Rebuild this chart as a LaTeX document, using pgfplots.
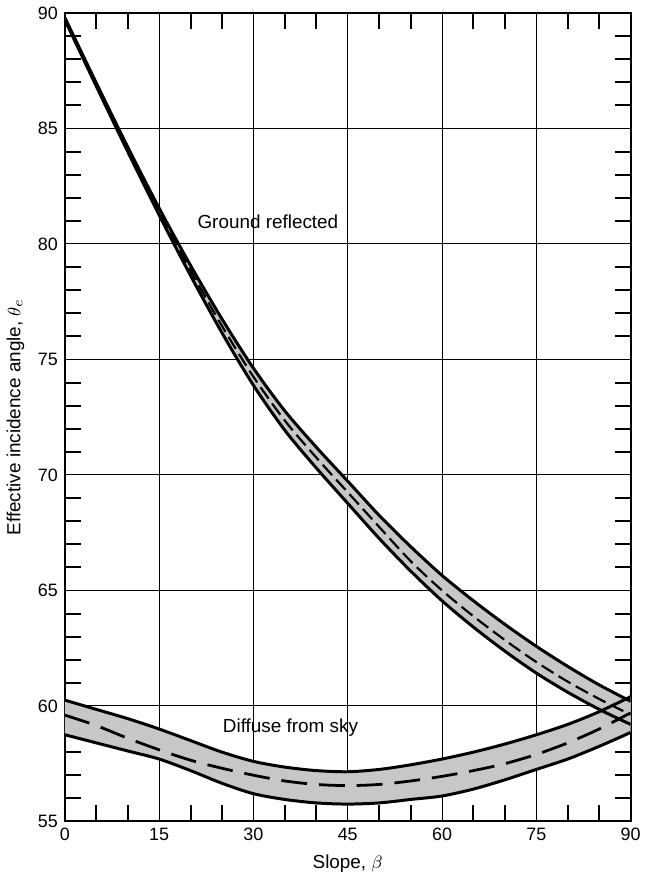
\documentclass[border=0pt]{standalone}
\usepackage{fontspec}
\setmainfont{Liberation Sans}
\usepackage{pgfplots}
\usepackage{pgfplotstable}
\pgfplotsset{compat=1.18}
\usepgfplotslibrary{fillbetween}

% slope, upper edge, dashed middle, lower edge
\pgfplotstableread{
b   up     mid    lo
0   89.8   89.75  89.7
5   86.97  86.9   86.83
10  84.2   84.1   84.0
15  81.55  81.4   81.25
20  79.07  78.85  78.63
25  76.75  76.45  76.15
30  74.62  74.25  73.88
35  72.77  72.35  71.93
40  71.2   70.75  70.3
45  69.73  69.25  68.77
50  68.25  67.75  67.25
55  66.9   66.27  65.84
60  65.65  65.0   64.55
65  64.55  63.88  63.41
70  63.53  62.85  62.37
75  62.58  61.9   61.42
80  61.71  61.05  60.59
85  60.91  60.3   59.85
90  60.2   59.62  59.2
}\ground

\pgfplotstableread{
b   up     mid    lo
0   60.25  59.6   58.75
5   59.85  59.15  58.4
10  59.45  58.6   58.05
15  59.0   58.1   57.7
20  58.5   57.65  57.2
25  58.0   57.3   56.65
30  57.6   57.0   56.2
35  57.35  56.75  55.95
40  57.2   56.6   55.8
45  57.15  56.55  55.75
50  57.25  56.6   55.8
55  57.45  56.75  55.95
60  57.7   56.95  56.1
65  58.0   57.2   56.4
70  58.35  57.5   56.8
75  58.75  57.9   57.25
80  59.2   58.4   57.7
85  59.75  59.0   58.25
90  60.4   59.7   58.85
}\diffuse

\begin{document}
\begin{tikzpicture}
\begin{axis}[
    scale only axis,
    width=284.5pt, height=406.5pt,
    xmin=0, xmax=90, ymin=55, ymax=90,
    xtick={0,15,...,90}, ytick={55,60,...,90},
    minor x tick num=2, minor y tick num=4,
    grid=major,
    major grid style={line width=0.5pt, black},
    major tick length=0pt, minor tick length=8pt,
    every minor tick/.style={line width=1pt, black},
    axis line style={line width=1pt},
    /pgf/number format/assume math mode=true,
    tick label style={font=\fontsize{9}{10}\selectfont},
    label style={font=\fontsize{9.5}{11}\selectfont},
    xlabel={Slope, $\beta$},
    ylabel={Effective incidence angle, $\theta_e$},
    every axis plot/.append style={smooth},
]
% ground reflected band
\addplot[draw=none, name path=gu] table[x=b, y=up] {\ground};
\addplot[draw=none, name path=gl] table[x=b, y=lo] {\ground};
\addplot[black!22] fill between[of=gu and gl];
\addplot[line width=1.5pt] table[x=b, y=up] {\ground};
\addplot[line width=1.5pt] table[x=b, y=lo] {\ground};
\addplot[line width=1.1pt, dash pattern=on 7pt off 3pt] table[x=b, y=mid] {\ground};

% diffuse band
\addplot[draw=none, name path=du] table[x=b, y=up] {\diffuse};
\addplot[draw=none, name path=dl] table[x=b, y=lo] {\diffuse};
\addplot[black!22] fill between[of=du and dl];
\addplot[line width=1.5pt] table[x=b, y=up] {\diffuse};
\addplot[line width=1.5pt] table[x=b, y=lo] {\diffuse};
\addplot[line width=1.4pt, dash pattern=on 13pt off 6pt] table[x=b, y=mid] {\diffuse};

\node[font=\fontsize{9.5}{11}\selectfont] at (axis cs:32.3,80.95) {Ground reflected};
\node[font=\fontsize{9.5}{11}\selectfont] at (axis cs:35.9,59.05) {Diffuse from sky};
\end{axis}
\end{tikzpicture}
\end{document}
